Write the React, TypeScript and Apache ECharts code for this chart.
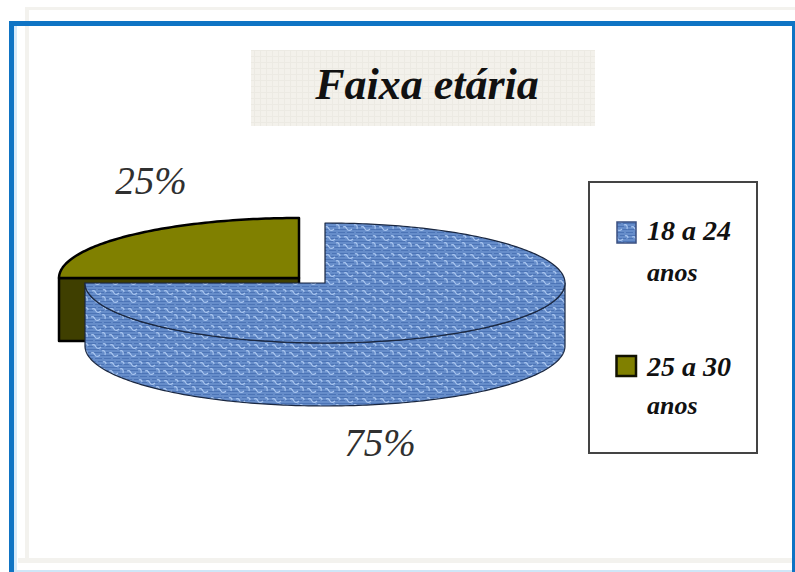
import React, { useEffect, useRef } from "react";
import * as echarts from "echarts";

const titleText = "Faixa etária";
const categories = ["18 a 24", "25 a 30"];
const legendSecondLine = "anos";
const shares = [75, 25];

const weave =
  "data:image/svg+xml;utf8," +
  encodeURIComponent(
    `<svg xmlns='http://www.w3.org/2000/svg' width='18' height='18'>
<rect width='18' height='18' fill='#668dca'/>
<path d='M0 1.5H6M8 1.5H18M0 4.5H3M5 4.5H14M16 4.5H18M0 7.5H9M11 7.5H18M0 10.5H2M4 10.5H12M14 10.5H18M0 13.5H6M8 13.5H18M0 16.5H3M5 16.5H12M14 16.5H18' stroke='#4c74b6' stroke-width='1'/>
<path d='M2 3C4 2 5 3 6 5S9 7 11 5M12 9C14 8 16 10 15 13M1 11C3 10 4 11 5 13S8 15 10 13M13 2C14 1 16 2 16 4' fill='none' stroke='#a9c6f0' stroke-width='1.2'/>
</svg>`
  );
const linen =
  "data:image/svg+xml;utf8," +
  encodeURIComponent(
    `<svg xmlns='http://www.w3.org/2000/svg' width='6' height='6'>
<rect width='6' height='6' fill='#f3f1eb'/>
<path d='M0 2.5H6M2.5 0V6' stroke='#eceae3' stroke-width='1'/>
</svg>`
  );
const bluePattern: any = { image: weave, repeat: "repeat", imageWidth: 18, imageHeight: 18 };
const linenPattern: any = { image: linen, repeat: "repeat", imageWidth: 6, imageHeight: 6 };

const OLIVE = "#808000";
const OLIVE_DARK = "#3f3f00";
const DEPTH = 63;
const RX = 240;
const RY = 60;
const sliceCenters = [
  [325, 283],
  [299, 278],
];
const labelAnchors = [
  [380, 442],
  [151, 180],
];
const tops: any[] = [bluePattern, OLIVE];
const sides: any[] = [bluePattern, OLIVE_DARK];
const strokes = [
  { top: "#1a2740", width: 1.2 },
  { top: "#000000", width: 2.5 },
];
const order = [2, 1];

const total = shares.reduce((a, b) => a + b, 0);

function rim(cx: number, cy: number, from: number, to: number, dy = 0) {
  const pts: number[][] = [];
  const n = Math.max(2, Math.ceil(Math.abs(to - from) / (Math.PI / 180)));
  for (let i = 0; i <= n; i++) {
    const t = from + ((to - from) * i) / n;
    pts.push([cx + RX * Math.sin(t), cy - RY * Math.cos(t) + dy]);
  }
  return pts;
}

function renderSlice(params: any, api: any) {
  const i = params.dataIndex;
  const before = shares.slice(0, i).reduce((a, b) => a + b, 0);
  const a0 = (before / total) * Math.PI * 2;
  const a1 = ((before + api.value(0)) / total) * Math.PI * 2;
  const [cx, cy] = sliceCenters[i];
  const z2 = order[i];
  const children: any[] = [];
  const lw = strokes[i].width;
  const line = strokes[i].top;

  // Outer wall: the part of the rim that faces the viewer (3 to 9 o'clock)
  const w0 = Math.max(a0, Math.PI / 2);
  const w1 = Math.min(a1, (Math.PI * 3) / 2);
  if (w1 > w0) {
    const upper = rim(cx, cy, w0, w1);
    const lower = rim(cx, cy, w1, w0, DEPTH);
    children.push({
      type: "polygon",
      z2,
      shape: { points: [...upper, ...lower] },
      style: { fill: sides[i], stroke: line, lineWidth: lw, lineJoin: "round" },
    });
  }
  // Cut face on the slice's leading radius, visible when it points left
  if (Math.sin(a0) < -0.001) {
    const x = cx + RX * Math.sin(a0);
    const y = cy - RY * Math.cos(a0);
    children.push({
      type: "polygon",
      z2,
      shape: { points: [[cx, cy], [x, y], [x, y + DEPTH], [cx, cy + DEPTH]] },
      style: { fill: sides[i], stroke: line, lineWidth: lw, lineJoin: "round" },
    });
  }
  children.push({
    type: "polygon",
    z2,
    shape: { points: [[cx, cy], ...rim(cx, cy, a0, a1)] },
    style: { fill: tops[i], stroke: line, lineWidth: lw, lineJoin: "round" },
  });
  children.push({
    type: "text",
    z2: 5,
    x: labelAnchors[i][0],
    y: labelAnchors[i][1],
    style: {
      text: `${api.value(0)}%`,
      font: "italic 39px 'Liberation Serif'",
      fill: "#303030",
      align: "center",
      verticalAlign: "middle",
    },
  });
  return { type: "group", children };
}

const legendRows = [
  { swatch: [617, 222, 19, 21], text: 244, second: 285, fill: bluePattern, stroke: "#3a4f80", lw: 1.5 },
  { swatch: [616.5, 356, 19.5, 20], text: 380, second: 418, fill: OLIVE, stroke: "#111100", lw: 2.5 },
];

function frameRect(x: number, y: number, width: number, height: number, fill: any) {
  return { type: "rect", silent: true, shape: { x, y, width, height }, style: { fill } };
}

function legendText(text: string, x: number, y: number, size: number) {
  return {
    type: "text",
    x,
    y,
    style: {
      text,
      font: `italic bold ${size}px 'Liberation Serif'`,
      fill: "#111111",
      align: "left",
      verticalAlign: "bottom",
    },
  };
}

export default function App() {
  const ref = useRef<HTMLDivElement>(null);
  useEffect(() => {
    const chart = echarts.init(ref.current!, null, { renderer: "svg" });
    chart.setOption({
      animation: false,
      backgroundColor: "#ffffff",
      series: [
        {
          type: "custom",
          coordinateSystem: "none",
          silent: true,
          data: shares.map((v) => [v]),
          renderItem: renderSlice,
        },
      ],
      graphic: [
        frameRect(25, 7, 770, 3, "#f3f2ee"),
        frameRect(25, 7, 4, 556, "#f3f2ee"),
        frameRect(18, 558, 777, 5, "#f3f2ee"),
        frameRect(14, 26, 3, 544, "#d6eafa"),
        frameRect(9, 21, 5, 551, "#0f74c4"),
        frameRect(9, 21, 786, 5, "#0f74c4"),
        frameRect(792, 21, 3, 551, "#0f74c4"),
        frameRect(14, 570, 778, 2, "#cfe6f7"),
        {
          type: "rect",
          silent: true,
          shape: { x: 251, y: 50, width: 344, height: 76 },
          style: { fill: linenPattern },
        },
        {
          type: "text",
          x: 427,
          y: 84,
          style: {
            text: titleText,
            font: "italic bold 44px 'Liberation Serif'",
            fill: "#111111",
            align: "center",
            verticalAlign: "middle",
          },
        },
        {
          type: "rect",
          silent: true,
          shape: { x: 589, y: 182, width: 168, height: 271 },
          style: { fill: "#ffffff", stroke: "#444444", lineWidth: 2 },
        },
        ...legendRows.flatMap((row, i) => [
          {
            type: "rect",
            silent: true,
            shape: { x: row.swatch[0], y: row.swatch[1], width: row.swatch[2], height: row.swatch[3] },
            style: { fill: row.fill, stroke: row.stroke, lineWidth: row.lw },
          },
          legendText(categories[i], 647, row.text, 28),
          legendText(legendSecondLine, 647, row.second, 26),
        ]),
      ],
    });
    return () => chart.dispose();
  }, []);
  return <div ref={ref} style={{ position: "absolute", left: 0, top: 0, width: 795, height: 572 }} />;
}
